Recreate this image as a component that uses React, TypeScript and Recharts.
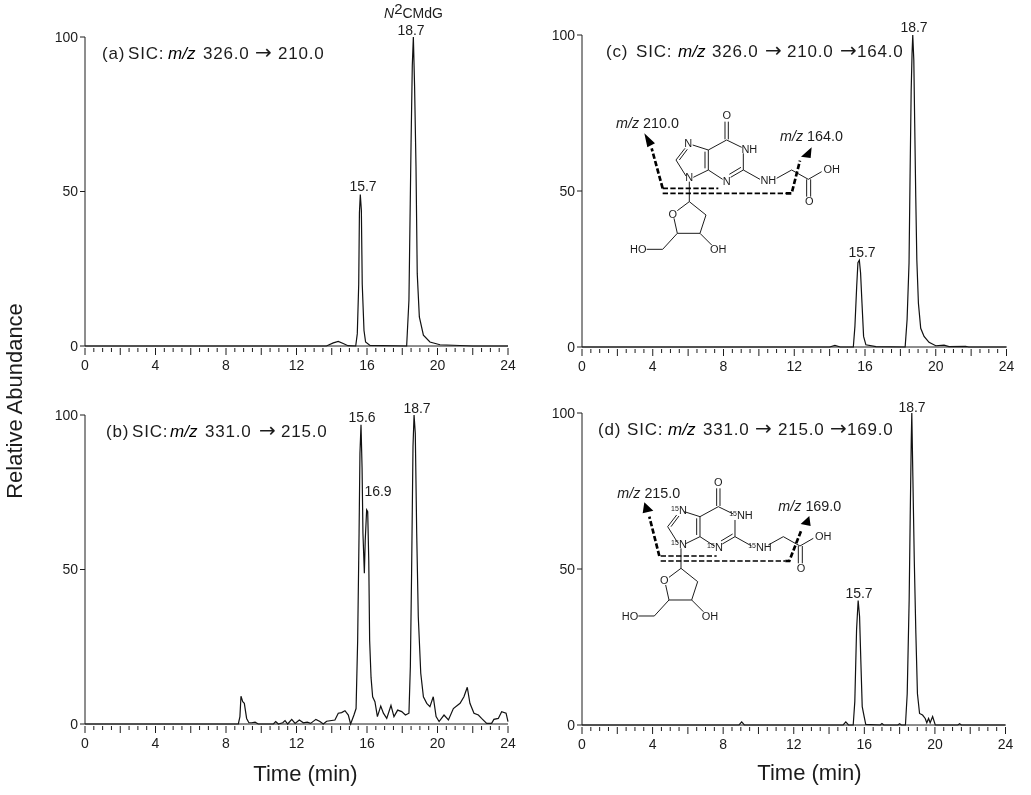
import React from "react"
import { LineChart, Line, XAxis, YAxis } from "recharts"

const FONT = "'Liberation Sans', Arial, sans-serif"
const INK = "#1c1c1c"

// minutes on the x axis, one mark every half minute
const xTicks = [
  0, 0.5, 1, 1.5, 2, 2.5, 3, 3.5, 4, 4.5, 5, 5.5, 6, 6.5, 7, 7.5, 8, 8.5, 9, 9.5, 10, 10.5, 11, 11.5,
  12, 12.5, 13, 13.5, 14, 14.5, 15, 15.5, 16, 16.5, 17, 17.5, 18, 18.5, 19, 19.5, 20, 20.5, 21, 21.5,
  22, 22.5, 23, 23.5, 24,
]
const xLabels = [0, 4, 8, 12, 16, 20, 24]
const longTicks = [0, 2, 4, 6, 8, 10, 12, 14, 16, 18, 20, 22, 24]
const yTicks = [0, 50, 100]

const timesA = [0, 13.7, 14.09, 14.37, 14.65, 14.92, 15.36, 15.45, 15.53, 15.57, 15.62, 15.68, 15.73, 15.83, 15.92, 16.17, 18.25, 18.38, 18.5, 18.57, 18.63, 18.7, 18.78, 18.85, 18.97, 19.2, 19.57, 20.14, 22, 24]
const valuesA = [0, 0, 1, 1.5, 0.8, 0.1, 0, 4, 20, 43, 49, 44, 20, 5, 1.3, 0.2, 0, 14.9, 65.8, 90.8, 100, 84, 58, 23.5, 9.4, 3.5, 1.3, 0.4, 0, 0]

const timesB = [0, 8.7, 8.79, 8.85, 8.95, 9.04, 9.17, 9.3, 9.46, 9.65, 9.83, 10.69, 10.82, 10.97, 11.22, 11.35, 11.5, 11.73, 11.92, 12.16, 12.39, 12.61, 12.8, 13.1, 13.33, 13.52, 13.71, 14.18, 14.37, 14.56, 14.75, 14.94, 15.07, 15.26, 15.38, 15.47, 15.55, 15.6, 15.66, 15.72, 15.77, 15.85, 15.9, 15.98, 16.04, 16.1, 16.15, 16.23, 16.32, 16.45, 16.59, 16.78, 16.93, 17.12, 17.36, 17.53, 17.74, 17.97, 18.18, 18.38, 18.46, 18.53, 18.61, 18.67, 18.74, 18.82, 18.91, 19.05, 19.2, 19.39, 19.57, 19.76, 19.92, 20.09, 20.37, 20.62, 20.9, 21.28, 21.5, 21.69, 21.84, 22.07, 22.32, 22.5, 22.79, 23.07, 23.2, 23.45, 23.64, 23.89, 24]
const valuesB = [0, 0, 2.4, 9, 7.2, 6.7, 1.8, 0.4, 0.4, 0.6, 0, 0, 0.8, 0, 0.4, 1.1, 0, 1.5, 0.2, 1.3, 0.4, 0.6, 0.2, 1.5, 0.8, 0, 0.9, 1.3, 3.5, 3.7, 4.3, 2.9, 0, 2.9, 5, 27, 61.7, 87.6, 96.8, 83, 61.7, 48.8, 59.5, 69.3, 68.7, 53, 27, 15, 8.8, 7.2, 2.4, 5.8, 3.5, 1.8, 6, 2.4, 4.5, 4, 2.9, 3.5, 18.6, 48.8, 89.8, 100, 94, 61.7, 34.7, 16.4, 8.8, 6.7, 5.6, 8.8, 2.4, 0.8, 2.9, 1.3, 5, 6.7, 8.8, 11.9, 6.7, 3.5, 2.9, 1.8, 0.2, 0.2, 1.5, 1.8, 4, 3.5, 0.8]

const timesC = [0, 14, 14.3, 14.6, 15.34, 15.43, 15.53, 15.6, 15.68, 15.75, 15.83, 15.92, 16.05, 16.62, 18.27, 18.38, 18.49, 18.55, 18.61, 18.66, 18.7, 18.76, 18.81, 18.87, 18.93, 19.02, 19.15, 19.34, 19.62, 20, 20.47, 20.75, 21.69, 21.87, 24]
const valuesC = [0, 0, 0.5, 0, 0, 6.6, 19.4, 27, 27.8, 23.7, 14, 3.4, 0.7, 0.1, 0, 8.8, 27, 55.7, 82, 94, 100, 92, 71.7, 48, 28, 14, 6, 3.4, 1.5, 0.4, 0.6, 0.1, 0.2, 0, 0]

const timesD = [0, 8.9, 9.05, 9.2, 14.8, 14.95, 15.1, 15.37, 15.46, 15.56, 15.61, 15.65, 15.73, 15.8, 15.88, 15.99, 16.08, 16.9, 17, 17.1, 17.9, 18, 18.1, 18.33, 18.43, 18.54, 18.6, 18.66, 18.69, 18.75, 18.83, 18.92, 19.01, 19.13, 19.3, 19.45, 19.54, 19.64, 19.73, 19.87, 20.02, 21.3, 21.4, 21.5, 24]
const valuesD = [0, 0, 1, 0, 0, 1, 0, 0, 7.5, 30.5, 35.8, 39.9, 34.8, 20.9, 5.9, 2.7, 0.2, 0, 0.5, 0, 0, 0.4, 0, 0, 10, 40, 66.8, 91.4, 100, 79.7, 53, 29.4, 10, 3.7, 3.2, 2.1, 0.7, 2.1, 0.7, 2.7, 0, 0, 0.4, 0, 0]

const toRows = (times: number[], values: number[]) => times.map((t, i) => ({ t, v: values[i] }))

function TimeTick({ x, y, payload }: any) {
  const len = longTicks.includes(payload.value) ? 7 : 4
  return (
    <g>
      <line x1={x} x2={x} y1={y} y2={y + len} stroke={INK} />
      {xLabels.includes(payload.value) && (
        <text x={x} y={y + 22} textAnchor="middle" fontSize={14} fontFamily={FONT} fill={INK}>
          {payload.value}
        </text>
      )}
    </g>
  )
}

function Panel({ left, right, top, bottom, rows }: any) {
  const chartW = right - left + 60
  const chartH = bottom - top + 40
  return (
    <div style={{ position: "absolute", left: left - 50, top: top - 10 }}>
      <LineChart width={chartW} height={chartH} data={rows} margin={{ top: 10, right: 10, bottom: 0, left: 0 }}>
        <XAxis
          dataKey="t"
          type="number"
          domain={[0, 24]}
          ticks={xTicks}
          interval={0}
          height={30}
          tickSize={0}
          tickLine={false}
          tick={TimeTick}
          stroke={INK}
        />
        <YAxis
          type="number"
          domain={[0, 100]}
          ticks={yTicks}
          width={50}
          tickSize={5}
          tickMargin={2}
          stroke={INK}
          tick={{ fontSize: 14, fontFamily: FONT, fill: INK }}
        />
        <Line dataKey="v" type="linear" stroke="#111" strokeWidth={1.2} dot={false} isAnimationActive={false} />
      </LineChart>
    </div>
  )
}

// the molecule is drawn at 3x so the numbers line up with the zoomed crops
const bonds = [
  "M375 95V148M385 95V148",
  "M380 150L425 172M430 190V240M430 240L392 262M423 232L388 253M368 268L325 240",
  "M325 240V180M315 235V185M325 180L380 150",
  "M325 180L278 165M255 175L228 210M262 178L238 210M228 210L258 258M280 262L325 240",
  "M268 275V335",
  "M430 240L480 268M530 265L575 240L625 268L665 245M620 268V320M632 268V320",
  "M268 335L318 375L300 430H232L222 385M232 362L268 335",
  "M232 430L188 478H140M300 430L335 465",
]

function Atom({ x, y, iso, children }: any) {
  return (
    <text x={x} y={y} textAnchor="middle" fontSize={33} fontFamily={FONT} fill={INK}>
      {iso && <tspan fontSize={21} dy={-9}>15</tspan>}
      {iso ? <tspan dy={9}>{children}</tspan> : children}
    </text>
  )
}

function DashedArrows({ left, right, upper, lower }: any) {
  return (
    <g fill="none" stroke="#000" strokeDasharray="16 7">
      <path d={left} strokeWidth={8} />
      <path d={right} strokeWidth={8} />
      <path d={upper} strokeWidth={5} />
      <path d={lower} strokeWidth={5} />
    </g>
  )
}

function Molecule({ dx, dy, iso }: any) {
  return (
    <g transform={`translate(${dx},${dy})`}>
      <path d={bonds.join("")} fill="none" stroke={INK} strokeWidth={3} />
      <Atom x={380} y={88}>O</Atom>
      <Atom x={iso ? 262 : 265} y={172} iso={iso}>N</Atom>
      <Atom x={iso ? 262 : 268} y={274} iso={iso}>N</Atom>
      <Atom x={iso ? 370 : 380} y={284} iso={iso}>N</Atom>
      <Atom x={448} y={188} iso={iso}>NH</Atom>
      <Atom x={505} y={282} iso={iso}>NH</Atom>
      <Atom x={695} y={250}>OH</Atom>
      <Atom x={628} y={346}>O</Atom>
      <Atom x={218} y={383}>O</Atom>
      <Atom x={115} y={490}>HO</Atom>
      <Atom x={355} y={490}>OH</Atom>
    </g>
  )
}

function Title({ y, tag, sic, mz, from, a1, mid, a2, end }: any) {
  const size = { fontSize: 17, letterSpacing: 0.8 }
  return (
    <text y={y} fontFamily={FONT} fill={INK} {...size}>
      <tspan x={tag[0]}>{tag[1]}</tspan>
      <tspan x={sic}>SIC:</tspan>
      <tspan x={mz} fontStyle="italic" fill="#000" letterSpacing={0}>m/z</tspan>
      <tspan x={from[0]}>{from[1]}</tspan>
      <tspan x={a1} fontFamily="'DejaVu Sans'" fontSize={20} letterSpacing={0}>→</tspan>
      <tspan x={mid[0]}>{mid[1]}</tspan>
      {a2 && <tspan x={a2} fontFamily="'DejaVu Sans'" fontSize={20} letterSpacing={0}>→</tspan>}
      {end && <tspan x={end[0]}>{end[1]}</tspan>}
    </text>
  )
}

function PeakText({ x, y, children }: any) {
  return (
    <text x={x} y={y} textAnchor="middle" fontSize={14} fontFamily={FONT} fill={INK}>
      {children}
    </text>
  )
}

function MzText({ x, y, value }: any) {
  return (
    <text x={x} y={y} fontSize={43} fontFamily={FONT} fill={INK}>
      <tspan fontStyle="italic">m/z</tspan> {value}
    </text>
  )
}

export default function App() {
  return (
    <div style={{ position: "absolute", left: 0, top: 0, width: 1031, height: 795, background: "#fff", overflow: "hidden", filter: "blur(0.3px)" }}>
      <Panel left={85} right={508} top={37} bottom={346} rows={toRows(timesA, valuesA)} />
      <Panel left={85} right={508} top={415} bottom={724} rows={toRows(timesB, valuesB)} />
      <Panel left={581.5} right={1006} top={35} bottom={347} rows={toRows(timesC, valuesC)} />
      <Panel left={581.5} right={1005} top={413} bottom={725} rows={toRows(timesD, valuesD)} />

      <svg width={1031} height={795} style={{ position: "absolute", left: 0, top: 0 }}>
        <Title y={59} tag={[102, "(a)"]} sic={128} mz={168} from={[203, "326.0"]} a1={255} mid={[278, "210.0"]} />
        <Title y={437} tag={[106, "(b)"]} sic={132} mz={170} from={[205, "331.0"]} a1={259} mid={[281, "215.0"]} />
        <Title y={57} tag={[606, "(c)"]} sic={636} mz={678} from={[712, "326.0"]} a1={765} mid={[787, "210.0"]} a2={840} end={[857, "164.0"]} />
        <Title y={435} tag={[598, "(d)"]} sic={627} mz={668} from={[703, "331.0"]} a1={755} mid={[778, "215.0"]} a2={830} end={[847, "169.0"]} />

        <text x={384} y={18} fontSize={14} fontFamily={FONT} fill={INK}>
          <tspan fontStyle="italic">N</tspan>
          <tspan fontSize={15} dy={-4}>2</tspan>
          <tspan dy={4}>CMdG</tspan>
        </text>
        <PeakText x={411} y={35}>18.7</PeakText>
        <PeakText x={363} y={191}>15.7</PeakText>
        <PeakText x={362} y={422}>15.6</PeakText>
        <PeakText x={378} y={496}>16.9</PeakText>
        <PeakText x={417} y={413}>18.7</PeakText>
        <PeakText x={914} y={32}>18.7</PeakText>
        <PeakText x={862} y={257}>15.7</PeakText>
        <PeakText x={912} y={412}>18.7</PeakText>
        <PeakText x={859} y={598}>15.7</PeakText>

        <text x={305.5} y={781} textAnchor="middle" fontSize={22} fontFamily={FONT} fill={INK}>Time (min)</text>
        <text x={809.5} y={780} textAnchor="middle" fontSize={22} fontFamily={FONT} fill={INK}>Time (min)</text>
        <text
          transform="translate(22,401) rotate(-90)"
          textAnchor="middle"
          fontSize={22}
          fontFamily={FONT}
          fill={INK}
        >
          Relative Abundance
        </text>

        <g transform="translate(600,90) scale(0.3333)">
          <Molecule dx={0} dy={0} />
          <MzText x={48} y={114} value="210.0" />
          <MzText x={540} y={152} value="164.0" />
          <DashedArrows
            left="M188 295L155 175"
            right="M558 310H575L600 212"
            upper="M188 295H355"
            lower="M188 310H558"
          />
          <path d="M133 130L165 160L142 172ZM635 172L603 200L632 204Z" fill="#000" />
        </g>

        <g transform="translate(600,470) scale(0.3333)">
          <Molecule dx={-25} dy={-40} iso />
          <MzText x={52} y={84} value="215.0" />
          <MzText x={535} y={122} value="169.0" />
          <DashedArrows
            left="M178 258L148 140"
            right="M556 273H568L605 178"
            upper="M182 258H350"
            lower="M182 273H556"
          />
          <path d="M133 97L160 122L128 130ZM628 138L602 162L632 168Z" fill="#000" />
        </g>
      </svg>
    </div>
  )
}
